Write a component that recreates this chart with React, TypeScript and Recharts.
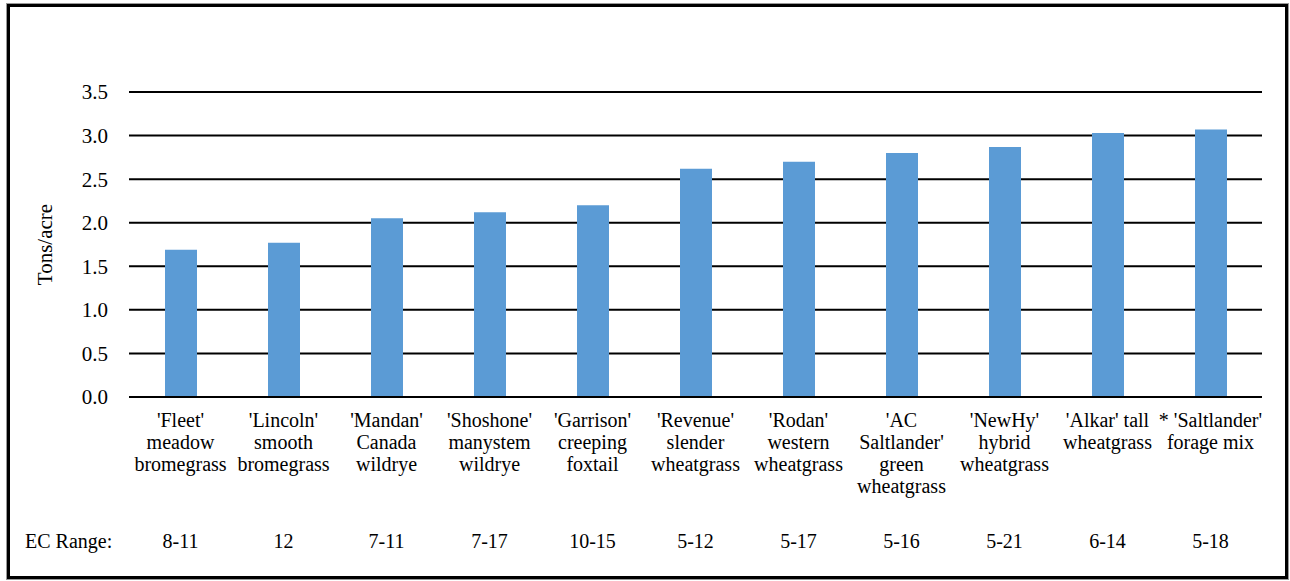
import { BarChart, Bar, XAxis, YAxis, CartesianGrid } from "recharts";

// cultivar labels, one entry per line of text under each bar
const cultivars: string[][] = [
  ["'Fleet'", "meadow", "bromegrass"],
  ["'Lincoln'", "smooth", "bromegrass"],
  ["'Mandan'", "Canada", "wildrye"],
  ["'Shoshone'", "manystem", "wildrye"],
  ["'Garrison'", "creeping", "foxtail"],
  ["'Revenue'", "slender", "wheatgrass"],
  ["'Rodan'", "western", "wheatgrass"],
  ["'AC", "Saltlander'", "green", "wheatgrass"],
  ["'NewHy'", "hybrid", "wheatgrass"],
  ["'Alkar' tall", "wheatgrass"],
  ["* 'Saltlander'", "forage mix"],
];

const yields = [1.69, 1.77, 2.05, 2.12, 2.2, 2.62, 2.7, 2.8, 2.87, 3.03, 3.07];

const ecRanges = ["8-11", "12", "7-11", "7-17", "10-15", "5-12", "5-17", "5-16", "5-21", "6-14", "5-18"];

const yTicks = [0, 0.5, 1, 1.5, 2, 2.5, 3, 3.5];

const data = cultivars.map((_, i) => ({
  name: String(i),
  tons: yields[i],
}));

const FONT = "Liberation Serif, DejaVu Serif, serif";

function CategoryTick(props: any) {
  const { x, y, payload, index } = props;
  const i = Number(payload.value);
  const lines = cultivars[i];
  return (
    <g style={{ fontFamily: FONT, fontSize: 20 }} fill="#000">
      <text x={x} y={y + 30} textAnchor="middle">
        {lines.map((line, k) => (
          <tspan key={k} x={x} dy={k === 0 ? 0 : 22}>
            {line}
          </tspan>
        ))}
      </text>
      <text x={x} y={y + 151} textAnchor="middle">
        {ecRanges[i]}
      </text>
      {index === 0 && (
        <text x={25} y={y + 151}>
          EC Range:
        </text>
      )}
    </g>
  );
}

export default function App() {
  return (
    <div
      style={{
        position: "absolute",
        left: 0,
        top: 0,
        width: 1290,
        height: 581,
        background: "#fff",
        fontFamily: FONT,
      }}
    >
      <div
        style={{
          position: "absolute",
          left: 7,
          top: 4,
          width: 1281,
          height: 575,
          boxSizing: "border-box",
          border: "3px solid #000",
          boxShadow: "0 0 0 1px #999",
        }}
      />
      <BarChart
        width={1290}
        height={581}
        data={data}
        margin={{ top: 92, right: 28, bottom: 14, left: 69 }}
        barSize={32}
        style={{ position: "absolute", left: 0, top: 0, fontFamily: FONT }}
      >
        <CartesianGrid horizontal vertical={false} stroke="#000" strokeWidth={2} />
        <YAxis
          width={60}
          domain={[0, 3.5]}
          ticks={yTicks}
          interval={0}
          axisLine={false}
          tickLine={false}
          tickSize={6}
          tickMargin={15}
          tickFormatter={(v: number) => v.toFixed(1)}
          tick={{ fill: "#000", fontSize: 21, style: { fontFamily: FONT } }}
          label={{
            value: "Tons/acre",
            angle: -90,
            position: "insideLeft",
            offset: -24,
            style: { fill: "#000", fontSize: 21, fontFamily: FONT, textAnchor: "middle" },
          }}
        />
        <XAxis
          dataKey="name"
          height={170}
          interval={0}
          axisLine={{ stroke: "#000", strokeWidth: 2 }}
          tickLine={false}
          tickSize={0}
          tickMargin={0}
          tick={<CategoryTick />}
        />
        <Bar dataKey="tons" fill="#5B9BD5" isAnimationActive={false} />
      </BarChart>
    </div>
  );
}
